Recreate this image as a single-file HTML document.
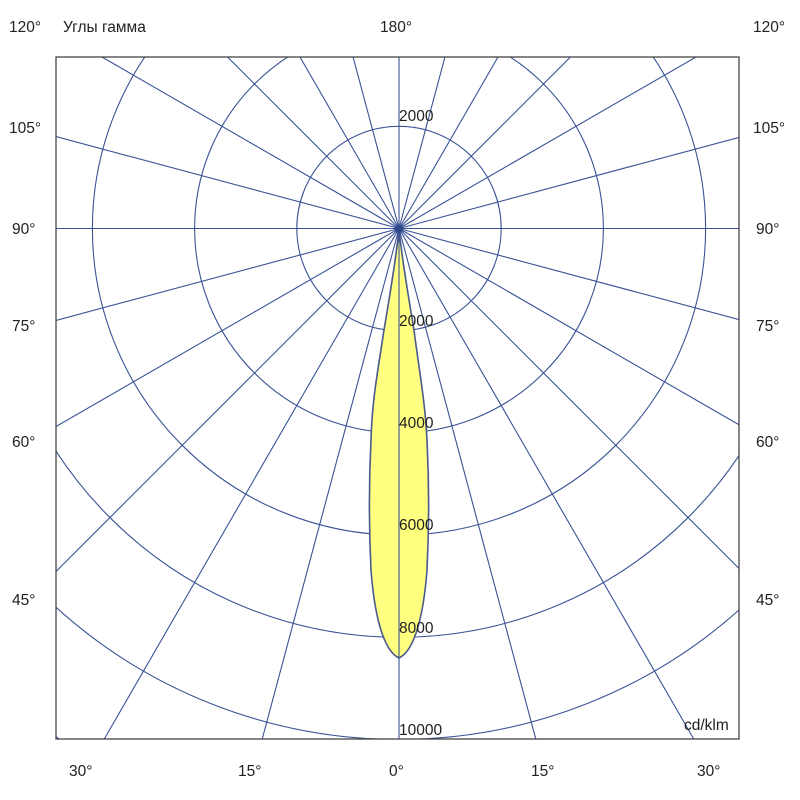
<!DOCTYPE html>
<html><head><meta charset="utf-8"><style>
html,body{margin:0;padding:0;background:#fff;width:800px;height:800px;overflow:hidden;}
svg{display:block;}
text{font-family:"Liberation Sans",sans-serif;font-size:15.5px;fill:#222;}
</style></head><body>
<svg width="800" height="800" viewBox="0 0 800 800" xmlns="http://www.w3.org/2000/svg">
<rect x="0" y="0" width="800" height="800" fill="#fff"/>
<svg x="56" y="57" width="683" height="682" viewBox="56 57 683 682" overflow="hidden">
<g stroke="#3a5396" stroke-width="1.1" fill="none">
<circle cx="399" cy="228.5" r="102.2"/>
<circle cx="399" cy="228.5" r="204.4"/>
<circle cx="399" cy="228.5" r="306.6"/>
<circle cx="399" cy="228.5" r="408.8"/>
<circle cx="399" cy="228.5" r="511"/>
<circle cx="399" cy="228.5" r="613.2"/>
<circle cx="399" cy="228.5" r="715.4"/>
</g>
<path d="M399,229 C396,260 389,300 384,330 C378,370 372,400 371,440 C369,480 369,530 371,570 C374,610 382,650 399,658 C416,650 424,610 427,570 C429,530 429,480 427,440 C425,400 419,370 414,330 C409,300 402,260 399,229 Z" fill="#ffff80" stroke="#4a5a8a" stroke-width="1.6"/>
<g id="radials" stroke="#3a5396" stroke-width="1.1"></g>
<circle cx="399" cy="229" r="4" fill="#2d4a8a"/>
</svg>
<rect x="56" y="57" width="683" height="682" fill="none" stroke="#444" stroke-width="1.3"/>
<text x="9" y="32">120°</text>
<text x="63" y="32">Углы гамма</text>
<text x="380" y="32">180°</text>
<text x="753" y="32">120°</text>
<text x="9" y="133">105°</text><text x="753" y="133">105°</text>
<text x="12" y="234">90°</text><text x="756" y="234">90°</text>
<text x="12" y="331">75°</text><text x="756" y="331">75°</text>
<text x="12" y="447">60°</text><text x="756" y="447">60°</text>
<text x="12" y="605">45°</text><text x="756" y="605">45°</text>
<text x="69" y="776">30°</text>
<text x="238" y="776">15°</text>
<text x="389" y="776">0°</text>
<text x="531" y="776">15°</text>
<text x="697" y="776">30°</text>
<text x="399" y="121">2000</text>
<text x="399" y="326">2000</text>
<text x="399" y="428">4000</text>
<text x="399" y="530">6000</text>
<text x="399" y="633">8000</text>
<text x="399" y="735">10000</text>
<text x="684" y="730">cd/klm</text>
</svg>
<script>
var g=document.getElementById('radials'),ns='http://www.w3.org/2000/svg';
var cx=399,cy=228.5,L=56,R=739,T=57,B=739;
for(var a=0;a<360;a+=15){var r=a*Math.PI/180,dx=Math.sin(r),dy=Math.cos(r),t=1e9;
if(dx>1e-9)t=Math.min(t,(R-cx)/dx);if(dx<-1e-9)t=Math.min(t,(L-cx)/dx);
if(dy>1e-9)t=Math.min(t,(B-cy)/dy);if(dy<-1e-9)t=Math.min(t,(T-cy)/dy);
var l=document.createElementNS(ns,'line');
l.setAttribute('x1',cx);l.setAttribute('y1',cy);
l.setAttribute('x2',cx+t*dx);l.setAttribute('y2',cy+t*dy);g.appendChild(l);}
</script>
</body></html>
